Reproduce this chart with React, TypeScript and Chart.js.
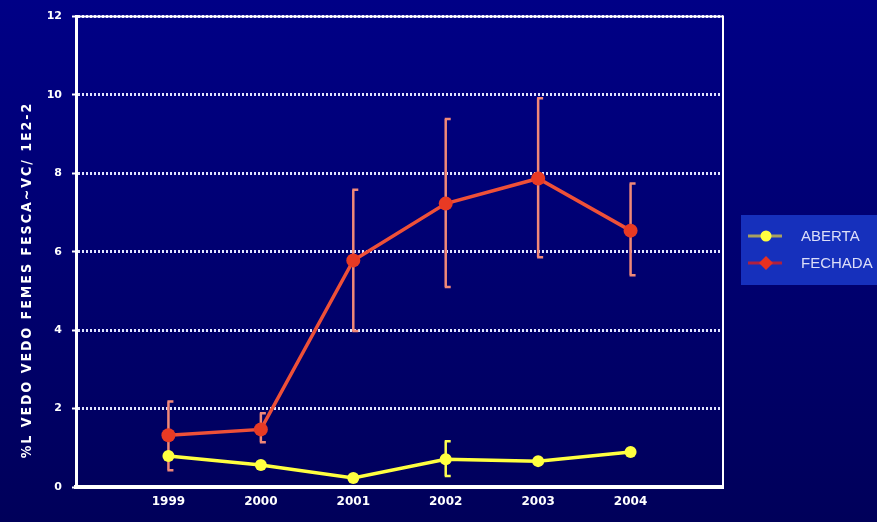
import React, { useEffect, useRef } from "react";
import { Chart, registerables } from "chart.js";

Chart.register(...registerables);

const years = [1999, 2000, 2001, 2002, 2003, 2004];
const yTicks = [0, 2, 4, 6, 8, 10, 12];
const aberta = [0.79, 0.56, 0.23, 0.71, 0.66, 0.89];
const abertaHigh = [null, null, null, 1.17, null, null];
const abertaLow = [null, null, null, 0.28, null, null];
const fechada = [1.32, 1.47, 5.78, 7.23, 7.87, 6.54];
const fechadaHigh = [2.18, 1.88, 7.58, 9.39, 9.92, 7.74];
const fechadaLow = [0.43, 1.14, 3.98, 5.1, 5.86, 5.4];
const seriesNames = ["ABERTA", "FECHADA"];
const yTitle = "%L VEDO VEDO FEMES FESCA~VC/ 1E2-2";

const BG_TOP = "#000086";
const BG_BOTTOM = "#00005a";

export default function App() {
  const ref = useRef<HTMLCanvasElement | null>(null);

  useEffect(() => {
    document.body.style.margin = "0";
    const canvas = ref.current;
    if (!canvas) return;

    const bgPlugin = {
      id: "bg",
      beforeDraw(chart: any) {
        const { ctx, width, height } = chart;
        const g = ctx.createLinearGradient(0, 0, 0, height);
        g.addColorStop(0, BG_TOP);
        g.addColorStop(1, BG_BOTTOM);
        ctx.save();
        ctx.fillStyle = g;
        ctx.fillRect(0, 0, width, height);
        ctx.restore();
      },
    };

    const errPlugin = {
      id: "err",
      beforeDatasetsDraw(chart: any) {
        const { ctx } = chart;
        const xs = chart.scales.x;
        const ys = chart.scales.y;
        const drawSet = (hi: (number | null)[], lo: (number | null)[], color: string) => {
          ctx.save();
          ctx.strokeStyle = color;
          ctx.lineWidth = 2.5;
          years.forEach((yr, i) => {
            const h = hi[i];
            const l = lo[i];
            if (h == null || l == null) return;
            const x = xs.getPixelForValue(yr);
            const yh = ys.getPixelForValue(h);
            const yl = ys.getPixelForValue(l);
            ctx.beginPath();
            ctx.moveTo(x, yh);
            ctx.lineTo(x, yl);
            ctx.moveTo(x - 1, yh);
            ctx.lineTo(x + 5, yh);
            ctx.moveTo(x - 1, yl);
            ctx.lineTo(x + 5, yl);
            ctx.stroke();
          });
          ctx.restore();
        };
        drawSet(fechadaHigh, fechadaLow, "#f08878");
        drawSet(abertaHigh, abertaLow, "#ffff50");
      },
      afterDraw(chart: any) {
        const { ctx, chartArea } = chart;
        ctx.save();
        // frame
        ctx.strokeStyle = "#ffffff";
        ctx.lineWidth = 2;
        ctx.beginPath();
        ctx.moveTo(chartArea.left, chartArea.top);
        ctx.lineTo(chartArea.right, chartArea.top);
        ctx.lineTo(chartArea.right, chartArea.bottom);
        ctx.stroke();
        // y title
        ctx.translate(27, 280);
        ctx.rotate(-Math.PI / 2);
        ctx.fillStyle = "#ffffff";
        ctx.font = "bold 14px 'DejaVu Sans Condensed'";
        (ctx as any).letterSpacing = "2px";
        ctx.textAlign = "center";
        ctx.textBaseline = "middle";
        ctx.fillText(yTitle, 0, 0);
        ctx.restore();

        // legend
        ctx.save();
        ctx.fillStyle = "#1630bc";
        ctx.fillRect(741, 215, 140, 70);
        const rows = [
          { y: 236, line: "#a8a060", fill: "#ffff40", shape: "circle" },
          { y: 263, line: "#b02040", fill: "#e83020", shape: "diamond" },
        ];
        rows.forEach((r, i) => {
          ctx.strokeStyle = r.line;
          ctx.lineWidth = 3;
          ctx.beginPath();
          ctx.moveTo(748, r.y);
          ctx.lineTo(782, r.y);
          ctx.stroke();
          ctx.fillStyle = r.fill;
          ctx.beginPath();
          if (r.shape === "circle") {
            ctx.arc(766, r.y, 5.5, 0, Math.PI * 2);
          } else {
            ctx.moveTo(766, r.y - 7);
            ctx.lineTo(773, r.y);
            ctx.lineTo(766, r.y + 7);
            ctx.lineTo(759, r.y);
            ctx.closePath();
          }
          ctx.fill();
          ctx.fillStyle = "#dcdef8";
          ctx.font = "15px 'Liberation Sans'";
          ctx.textAlign = "left";
          ctx.textBaseline = "middle";
          ctx.fillText(seriesNames[i], 801, r.y + 1);
        });
        ctx.restore();
      },
    };

    const chart = new Chart(canvas, {
      type: "line",
      data: {
        datasets: [
          {
            label: seriesNames[0],
            data: years.map((x, i) => ({ x, y: aberta[i] })),
            borderColor: "#ffff40",
            backgroundColor: "#ffff40",
            borderWidth: 3.5,
            pointRadius: 6,
            pointBorderWidth: 0,
            pointStyle: "circle",
          },
          {
            label: seriesNames[1],
            data: years.map((x, i) => ({ x, y: fechada[i] })),
            borderColor: "#ee5038",
            backgroundColor: "#e83a24",
            borderWidth: 3.5,
            pointRadius: 7,
            pointBorderWidth: 0,
            pointStyle: "circle",
          },
        ],
      },
      options: {
        animation: false,
        responsive: false,
        maintainAspectRatio: false,
        layout: { padding: { left: 0, right: 154, top: 14, bottom: 0 } },
        plugins: { legend: { display: false }, tooltip: { enabled: false } },
        scales: {
          x: {
            type: "linear",
            min: 1998,
            max: 2005,
            afterFit(scale: any) {
              scale.height = 35;
            },
            afterBuildTicks(scale: any) {
              scale.ticks = years.map((v) => ({ value: v }));
            },
            ticks: {
              color: "#ffffff",
              font: { family: "DejaVu Sans", weight: "bold", size: 12 },
              padding: 8,
              callback: (v: any) => String(v),
            },
            grid: { display: false, drawTicks: false },
            border: { color: "#ffffff", width: 4 },
          },
          y: {
            min: 0,
            max: 12,
            afterFit(scale: any) {
              scale.width = 76;
            },
            afterBuildTicks(scale: any) {
              scale.ticks = yTicks.map((v) => ({ value: v }));
            },
            ticks: {
              color: "#ffffff",
              font: { family: "DejaVu Sans", weight: "bold", size: 11 },
              padding: 10,
            },
            grid: {
              color: "#e0e4ff",
              lineWidth: 3,
              drawTicks: true,
              tickLength: 4,
              tickColor: "#ffffff",
              tickWidth: 2,
              tickBorderDash: [],
            },
            border: { color: "#ffffff", width: 3, dash: [2, 2] },
          },
        },
      },
      plugins: [bgPlugin, errPlugin],
    });
    return () => chart.destroy();
  }, []);

  return (
    <div style={{ width: 877, height: 522 }}>
      <canvas ref={ref} width={877} height={522} style={{ display: "block" }} />
    </div>
  );
}
